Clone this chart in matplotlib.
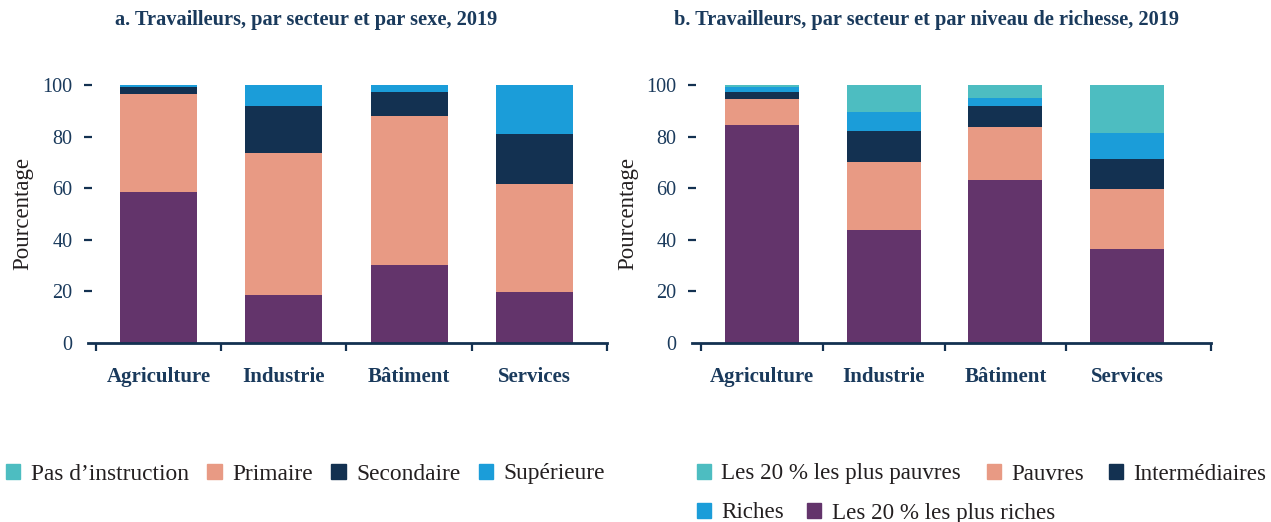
import matplotlib
matplotlib.use("Agg")
import matplotlib.pyplot as plt
from matplotlib.patches import Patch
import numpy as np

plt.rcParams['font.family'] = ['Liberation Serif', 'DejaVu Serif']

# ---- data ----
sectors = ["Agriculture", "Industrie", "Bâtiment", "Services"]

# Panel a: education level (bottom to top)
edu_none = [58.5, 18.6, 30.2, 19.8]
edu_primary = [38.0, 55.0, 57.8, 41.8]
edu_secondary = [2.8, 18.3, 9.3, 19.4]
edu_higher = [0.7, 8.1, 2.7, 19.0]

# Panel b: wealth level (bottom to top)
w_richest = [84.5, 43.8, 63.2, 36.4]
w_poor = [10.1, 26.4, 20.5, 23.3]
w_middle = [2.7, 12.0, 8.2, 11.6]
w_rich = [1.9, 7.3, 3.1, 10.1]
w_poorest = [0.8, 10.5, 5.0, 18.6]

title_a = "a. Travailleurs, par secteur et par sexe, 2019"
title_b = "b. Travailleurs, par secteur et par niveau de richesse, 2019"
ylabel = "Pourcentage"
yticks = [0, 20, 40, 60, 80, 100]

PURPLE = "#63346b"
SALMON = "#e89a84"
NAVY = "#133151"
BLUE = "#1b9dd9"
TEAL = "#4dbdc1"
TXT = "#1a3a5c"
LEG = "#231f20"

W, H = 1271, 522
fig = plt.figure(figsize=(W / 100, H / 100), dpi=100)

def make_axes(left_px, right_px, xmin, xmax):
    bottom_px = 343
    top_px = 343 - 100.5 * 2.58
    ax = fig.add_axes([left_px / W, (H - bottom_px) / H,
                       (right_px - left_px) / W, (bottom_px - top_px) / H])
    ax.set_xlim(xmin, xmax)
    ax.set_ylim(0, 100.5)
    for s in ["top", "right", "left"]:
        ax.spines[s].set_visible(False)
    ax.spines["bottom"].set_color(NAVY)
    ax.spines["bottom"].set_linewidth(2)
    ax.set_yticks(yticks)
    ax.set_yticklabels([str(v) for v in yticks], fontsize=14.5, color=TXT)
    ax.tick_params(axis="y", direction="inout", length=6, width=1.6,
                   color=NAVY, pad=8)
    ax.yaxis.get_major_ticks()[0].tick1line.set_visible(False)
    ax.set_xticks([-0.5, 0.5, 1.5, 2.5, xmax])
    ax.set_xticklabels([])
    ax.tick_params(axis="x", which="major", direction="out", length=6,
                   width=1.6, color=NAVY)
    ax.set_xticks(range(len(sectors)), minor=True)
    ax.set_xticklabels(sectors, minor=True, fontsize=15, fontweight="bold",
                       color=TXT)
    ax.tick_params(axis="x", which="minor", length=0, pad=17)
    ax.set_ylabel(ylabel, fontsize=16.5, color=LEG)
    ax.yaxis.set_label_coords(-0.105, 0.5)
    return ax

def stack(ax, series, colors, width):
    x = np.arange(len(sectors))
    bottom = np.zeros(len(sectors))
    for vals, c in zip(series, colors):
        ax.bar(x, vals, width, bottom=bottom, color=c, linewidth=0, zorder=2)
        bottom += np.array(vals)

axa = make_axes(88, 607, -0.563, 3.579)
stack(axa, [edu_none, edu_primary, edu_secondary, edu_higher],
      [PURPLE, SALMON, NAVY, BLUE], 0.615)

axb = make_axes(692, 1211, -0.575, 3.689)
stack(axb, [w_richest, w_poor, w_middle, w_rich, w_poorest],
      [PURPLE, SALMON, NAVY, BLUE, TEAL], 0.608)
axb.yaxis.set_label_coords(-0.103, 0.5)

fig.text(306 / W, 1 - 20 / H, title_a, ha="center", va="center",
         fontsize=14.7, fontweight="bold", color=TXT)
fig.text(926 / W, 1 - 20 / H, title_b, ha="center", va="center",
         fontsize=14.7, fontweight="bold", color=TXT)

leg_kw = dict(frameon=False, handlelength=0.61,
              handleheight=0.61, handletextpad=0.45, borderpad=0,
              borderaxespad=0, labelcolor=LEG, loc="center left")

ha = [Patch(color=TEAL, label="Pas d’instruction"),
      Patch(color=SALMON, label="Primaire"),
      Patch(color=NAVY, label="Secondaire"),
      Patch(color=BLUE, label="Supérieure")]
fig.legend(handles=ha, ncol=4, columnspacing=0.8, fontsize=16.8,
           bbox_to_anchor=(6 / W, (H - 474) / H), **leg_kw)

hb1 = [Patch(color=TEAL, label="Les 20 % les plus pauvres"),
       Patch(color=SALMON, label="Pauvres"),
       Patch(color=NAVY, label="Intermédiaires")]
fig.legend(handles=hb1, ncol=3, columnspacing=1.1, fontsize=16.6,
           bbox_to_anchor=(697 / W, (H - 474) / H), **leg_kw)
hb2 = [Patch(color=BLUE, label="Riches"),
       Patch(color=PURPLE, label="Les 20 % les plus riches")]
fig.legend(handles=hb2, ncol=2, columnspacing=1.0, fontsize=16.6,
           bbox_to_anchor=(697 / W, (H - 513) / H), **leg_kw)

fig.savefig("out.png", dpi=100)
